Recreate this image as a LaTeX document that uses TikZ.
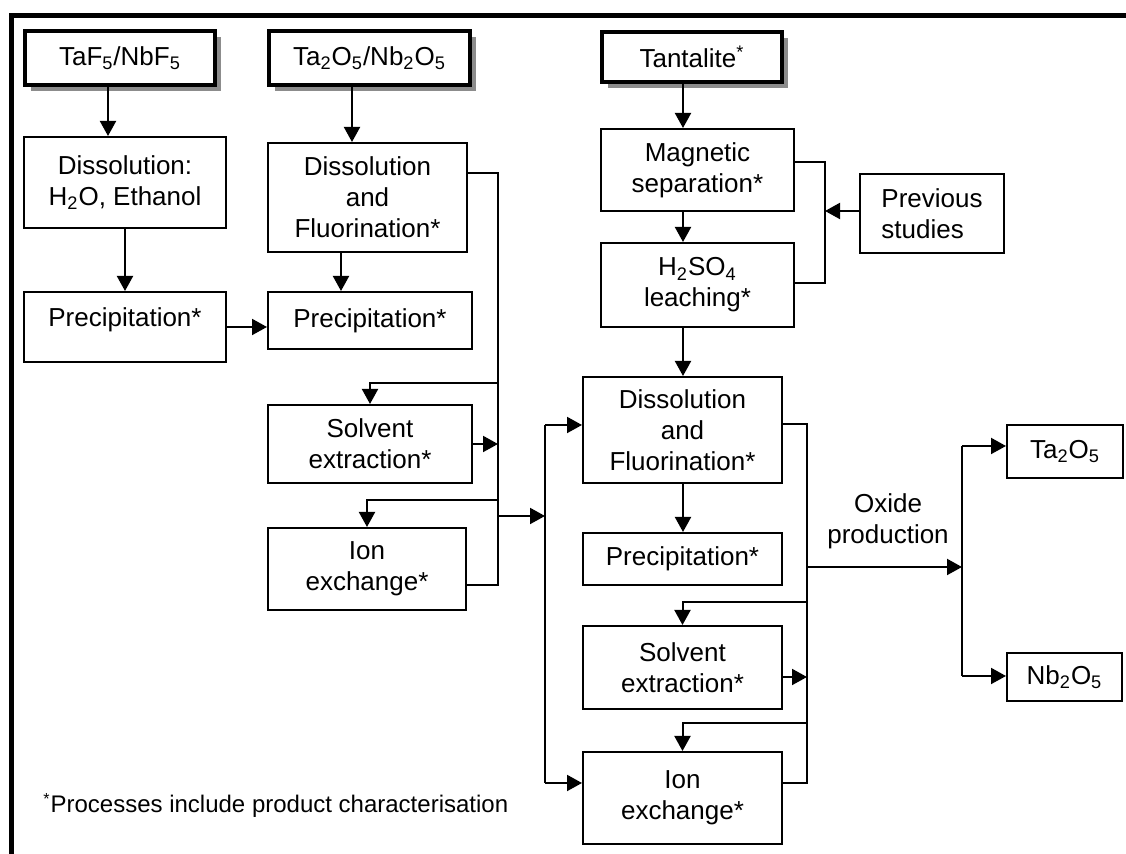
\documentclass[tikz,border=0pt]{standalone}
\usepackage{fontspec}
\setmainfont{Liberation Sans}
\usetikzlibrary{arrows.meta,shadows}
\tikzset{
  sz/.style 2 args={minimum width=#1*0.5pt, minimum height=#2*0.5pt},
  box/.style={draw, line width=1pt, align=center, inner sep=0pt, fill=white,
    font=\fontsize{13}{15.5}\selectfont},
  topbox/.style={box, line width=2pt,
    drop shadow={opacity=1, fill=black!45, draw=none, shadow xshift=3pt, shadow yshift=-3pt}},
  conn/.style={line width=1pt},
  arr/.style={conn, -{Triangle[length=7.5pt,width=8pt]}}
}
\begin{document}
\begin{tikzpicture}[x=0.5pt,y=-0.5pt]
\useasboundingbox (0,0) rectangle (1126,854);
% frame
\coordinate (fb) at (11.5,854);
\coordinate (fc) at (11.5,15.5);
\coordinate (fr) at (1130,15.5);
\draw[line width=2.5pt] (fb) -- (fc) -- (fr);
% top boxes
\node[topbox, sz={190}{54}] (A) at (120,58) {TaF\textsubscript{5}/NbF\textsubscript{5}};
\node[topbox, sz={201}{54}] (B) at (369.5,58) {Ta\textsubscript{2}O\textsubscript{5}/Nb\textsubscript{2}O\textsubscript{5}};
\node[topbox, sz={180}{50}] (C) at (692,57) {Tantalite\textsuperscript{*}};
% left column
\node[box, sz={202}{91}] (D1) at (125,182.5) {Dissolution:\\H\textsubscript{2}O, Ethanol};
\node[box, sz={202}{70}, text height=5pt, text depth=5pt] (P1) at (125,327) {Precipitation*};
% middle column
\node[box, sz={199}{109}] (D2) at (367.5,197.5) {Dissolution\\and\\Fluorination*};
\node[box, sz={204}{57}] (P2) at (370,320.5) {Precipitation*};
\node[box, sz={204}{78}] (S2) at (370,444) {Solvent\\extraction*};
\node[box, sz={198}{82}] (I2) at (367,569) {Ion\\exchange*};
% right column
\node[box, sz={193}{82}] (M) at (697.5,170) {Magnetic\\separation*};
\node[box, sz={193}{84}] (H) at (697.5,285) {H\textsubscript{2}SO\textsubscript{4}\\leaching*};
\node[box, sz={144}{79}, align=left] (PS) at (932,213.5) {Previous\\studies};
\node[box, sz={199}{106}] (D3) at (682.5,430) {Dissolution\\and\\Fluorination*};
\node[box, sz={199}{52}] (P3) at (682.5,559) {Precipitation*};
\node[box, sz={199}{83}] (S3) at (682.5,667.5) {Solvent\\extraction*};
\node[box, sz={199}{92}] (I3) at (682.5,798) {Ion\\exchange*};
\node[box, sz={116}{53}] (T) at (1065,451.5) {Ta\textsubscript{2}O\textsubscript{5}};
\node[box, sz={115}{48}] (N) at (1064.5,677) {Nb\textsubscript{2}O\textsubscript{5}};
\node[align=center, inner sep=0pt, font=\fontsize{13}{15.5}\selectfont] (OX) at (888,521) {Oxide\\production};
\node[anchor=base west, inner sep=0pt, font=\fontsize{12}{14}\selectfont] (FN) at (43,813) {\textsuperscript{*}Processes include product characterisation};
% junction coordinates
\coordinate (v1t) at (498,173);
\coordinate (v1b) at (498,585);
\coordinate (j1) at (498,383);
\coordinate (j2) at (498,500);
\coordinate (j3) at (498,516);
\coordinate (v2) at (545,516);
\coordinate (v2t) at (545,425);
\coordinate (v2b) at (545,783);
\coordinate (b1) at (825,162);
\coordinate (b2) at (825,283);
\coordinate (v3t) at (807,424);
\coordinate (v3b) at (807,783);
\coordinate (j4) at (807,602);
\coordinate (j5) at (807,723);
\coordinate (j6) at (807,677);
\coordinate (j7) at (807,567);
\coordinate (v4) at (962,567);
\coordinate (v4t) at (962,446);
\coordinate (v4b) at (962,676);
% left connectors
\draw[arr] (108,0 |- A.south) -- (108,0 |- D1.north);
\draw[arr] (D1.south) -- (P1.north);
\draw[arr] (P1.east) -- (P1.east -| P2.west);
% middle connectors
\draw[arr] (352,0 |- B.south) -- (352,0 |- D2.north);
\draw[arr] (341,0 |- D2.south) -- (341,0 |- P2.north);
\draw[conn] (D2.east |- v1t) -- (v1t) -- (v1b) -- (I2.east |- v1b);
\draw[arr] (j1) -| (S2.north);
\draw[arr] (j2) -| (I2.north);
\draw[arr] (S2.east) -- (S2.east -| v1t);
\draw[arr] (j3) -- (v2);
\draw[conn] (v2t) -- (v2b);
\draw[arr] (v2t) -- (D3.west |- v2t);
\draw[arr] (v2b) -- (I3.west |- v2b);
% right connectors
\draw[arr] (683,0 |- C.south) -- (683,0 |- M.north);
\draw[arr] (683,0 |- M.south) -- (683,0 |- H.north);
\draw[conn] (M.east |- b1) -- (b1) -- (b2) -- (H.east |- b2);
\draw[arr] (PS.west |- 0,211) -- (b1 |- 0,211);
\draw[arr] (683,0 |- H.south) -- (683,0 |- D3.north);
\draw[arr] (683,0 |- D3.south) -- (683,0 |- P3.north);
\draw[conn] (D3.east |- v3t) -- (v3t) -- (v3b) -- (I3.east |- v3b);
\draw[arr] (j4) -| (S3.north);
\draw[arr] (j5) -| (I3.north);
\draw[arr] (S3.east |- j6) -- (j6);
\draw[arr] (j7) -- (v4);
\draw[conn] (v4t) -- (v4b);
\draw[arr] (v4t) -- (T.west |- v4t);
\draw[arr] (v4b) -- (N.west |- v4b);
\end{tikzpicture}
\end{document}
